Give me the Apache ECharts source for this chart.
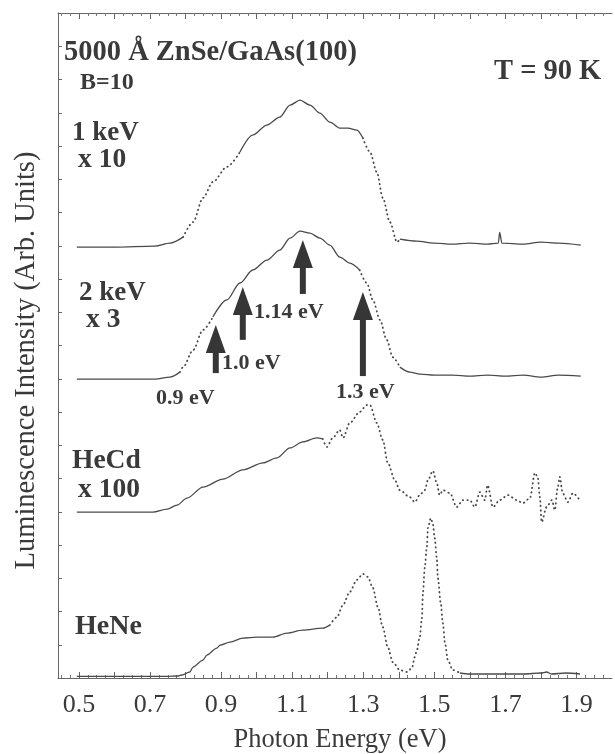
<!DOCTYPE html>
<html><head><meta charset="utf-8">
<script src="https://cdn.jsdelivr.net/npm/echarts@6/dist/echarts.min.js"></script>
<style>html,body{margin:0;padding:0;background:#fff}#c{width:615px;height:754px}</style>
</head><body><div id="c"></div>
<script>
// ---- tick labels ----
const xTickLabels = [0.5, 0.7, 0.9, 1.1, 1.3, 1.5, 1.7, 1.9];
const xMajorTicks = [0.5, 0.6, 0.7, 0.8, 0.9, 1.0, 1.1, 1.2, 1.3, 1.4, 1.5, 1.6, 1.7, 1.8, 1.9];

// ---- spectra: [photon energy (eV), luminescence (arb. units, offset)] ----
const oneKeV = [
  [0.494,12.96],[0.600,12.96],[0.714,12.99],[0.756,13.08],[0.793,13.26],[0.821,13.71],
  [0.849,14.44],[0.877,14.92],[0.916,15.37],[0.953,15.82],[0.989,16.33],[1.029,16.63],
  [1.065,16.87],[1.094,17.23],[1.122,17.38],[1.150,17.23],[1.178,16.99],[1.206,16.72],
  [1.234,16.54],[1.257,16.54],[1.282,16.48],[1.299,16.24],[1.319,15.82],[1.338,15.22],
  [1.355,14.44],[1.375,13.71],[1.395,13.11],[1.403,13.20],[1.450,13.14],[1.500,13.08],
  [1.550,13.05],[1.600,13.08],[1.650,13.05],[1.680,13.08],[1.684,13.40],[1.690,13.08],
  [1.750,13.05],[1.800,13.11],[1.850,13.08],[1.912,13.02]
];
const twoKeV = [
  [0.494,8.99],[0.600,8.99],[0.714,8.99],[0.756,9.05],[0.784,9.20],[0.793,9.35],
  [0.821,9.86],[0.849,10.47],[0.877,10.86],[0.916,11.37],[0.953,11.88],[0.989,12.27],
  [1.029,12.57],[1.065,12.87],[1.094,13.23],[1.122,13.44],[1.150,13.38],[1.178,13.23],
  [1.206,13.02],[1.234,12.66],[1.262,12.48],[1.290,12.27],[1.310,11.88],[1.327,11.37],
  [1.347,10.77],[1.366,10.17],[1.383,9.65],[1.403,9.35],[1.431,9.20],[1.460,9.14],
  [1.500,9.11],[1.550,9.11],[1.600,9.08],[1.650,9.11],[1.700,9.08],[1.750,9.11],
  [1.800,9.05],[1.850,9.11],[1.912,9.08]
];
const heCd = [
  [0.494,4.99],[0.600,4.99],[0.708,4.99],[0.748,5.08],[0.776,5.20],[0.804,5.41],
  [0.849,5.74],[0.905,5.98],[0.961,6.26],[1.018,6.47],[1.057,6.62],[1.094,6.92],
  [1.130,7.10],[1.169,7.22],[1.186,7.19],[1.198,6.95],[1.214,7.22],[1.234,7.46],
  [1.243,7.22],[1.262,7.67],[1.290,8.00],[1.310,8.21],[1.319,8.21],[1.338,7.67],
  [1.355,7.16],[1.369,6.47],[1.389,5.95],[1.403,5.65],[1.431,5.44],[1.445,5.29],
  [1.459,5.50],[1.473,5.65],[1.482,5.95],[1.496,6.23],[1.507,5.86],[1.515,5.50],
  [1.524,5.65],[1.544,5.56],[1.563,5.14],[1.580,5.35],[1.600,5.35],[1.614,5.14],
  [1.628,5.59],[1.642,5.35],[1.650,5.80],[1.665,5.14],[1.684,5.35],[1.707,5.50],
  [1.732,5.35],[1.749,5.26],[1.769,5.41],[1.783,6.17],[1.791,6.05],[1.797,5.44],
  [1.802,4.69],[1.816,5.14],[1.831,5.35],[1.839,5.05],[1.847,5.71],[1.853,6.05],
  [1.861,5.56],[1.876,5.29],[1.890,5.56],[1.909,5.35]
];
const heNe = [
  [0.494,0.05],[0.600,0.05],[0.700,0.05],[0.748,0.05],[0.776,0.06],[0.790,0.09],
  [0.812,0.18],[0.821,0.33],[0.849,0.54],[0.860,0.69],[0.888,0.90],[0.897,0.99],
  [0.925,1.08],[0.961,1.20],[1.001,1.23],[1.046,1.23],[1.085,1.35],[1.130,1.44],
  [1.186,1.50],[1.206,1.59],[1.226,1.83],[1.243,2.20],[1.262,2.59],[1.282,2.95],
  [1.299,3.13],[1.313,3.04],[1.327,2.71],[1.341,2.14],[1.355,1.53],[1.369,0.93],
  [1.383,0.48],[1.403,0.24],[1.423,0.18],[1.437,0.30],[1.445,0.63],[1.451,0.84],
  [1.459,1.23],[1.465,1.80],[1.468,2.56],[1.473,3.31],[1.479,3.94],[1.482,4.51],
  [1.490,4.81],[1.496,4.63],[1.501,4.21],[1.507,3.61],[1.510,3.01],[1.518,2.26],
  [1.524,1.65],[1.530,1.05],[1.538,0.54],[1.552,0.24],[1.572,0.15],[1.600,0.12],
  [1.650,0.12],[1.700,0.12],[1.750,0.12],[1.800,0.15],[1.816,0.18],[1.830,0.12],
  [1.870,0.15],[1.910,0.12]
];
// energy ranges where the recorded points are sparse (drawn as dots)
const oneKeVSparse = [[0.793,0.953],[1.299,1.403]];
const twoKeVSparse = [[0.784,0.877],[1.290,1.403]];
const heCdSparse = [[1.186,1.909]];
const heNeSparse = [[1.206,1.572]];

// arrows: [energy position, tip intensity, tail intensity]
const arrows = [[0.885,10.62,9.17],[0.961,11.76,10.17],[1.130,13.17,11.55],[1.299,11.61,9.08]];

const LINE = '#4a4a4a';
const TXT = '#3a3a3a';
function curve(name, data, sparse) {
  const inside = (e, strict) => sparse.some(r => strict ? (e > r[0] && e < r[1]) : (e >= r[0] && e <= r[1]));
  const solid = data.map(p => inside(p[0], true) ? [p[0], null] : p);
  const dots = data.map(p => inside(p[0], false) ? p : [p[0], null]);
  return [
    {type:'line', name:name, data:solid, showSymbol:false, silent:true, smooth:0.3, smoothMonotone:'x',
     lineStyle:{color:LINE, width:1.3}},
    {type:'line', name:name + ' ', data:dots, showSymbol:false, silent:true, smooth:0.3, smoothMonotone:'x',
     lineStyle:{color:LINE, width:1.8, type:[0.5,4.0], cap:'round'}}
  ];
}
const minorTicks = [];
for (let i = 0; i <= 62; i++) {
  const v = Math.round((0.45 + i * 0.025) * 1000) / 1000;
  if (Math.abs(v * 10 - Math.round(v * 10)) > 1e-6) minorTicks.push(v);
}

const serif = '"Liberation Serif", "Times New Roman", serif';
function label(text, x, y, size, bold) {
  return {type:'text', x:x, y:y, silent:true,
    style:{text:text, fontFamily:serif, fontSize:size, fontWeight: bold === false ? 'normal' : 'bold',
           fill:TXT, align:'left', verticalAlign:'middle'}};
}

const XMIN = 0.441, XMAX = 2.0;
const baseX = {type:'value', min:XMIN, max:XMAX, splitLine:{show:false}};
const option = {
  animation:false,
  backgroundColor:'#ffffff',
  grid:{left:58, right:3, top:13, bottom:76, containLabel:false, outerBoundsMode:'none'},
  xAxis:[
    Object.assign({}, baseX, {position:'bottom',
      name:'Photon Energy (eV)', nameLocation:'middle', nameGap:49,
      nameTextStyle:{fontFamily:serif, fontSize:26.5, color:TXT, padding:[0,0,0,10]},
      axisLine:{lineStyle:{color:'#666', width:1}},
      axisTick:{inside:true, length:6, customValues:xMajorTicks, lineStyle:{color:'#666'}},
      axisLabel:{customValues:xTickLabels, margin:14, fontFamily:serif, fontSize:26, color:TXT,
        formatter:v => v.toFixed(1)}}),
    Object.assign({}, baseX, {position:'bottom',
      axisLine:{show:false}, axisLabel:{show:false},
      axisTick:{inside:true, length:3, customValues:minorTicks, lineStyle:{color:'#777'}}}),
    Object.assign({}, baseX, {position:'top',
      axisLine:{lineStyle:{color:'#666', width:1}}, axisLabel:{show:false},
      axisTick:{inside:true, length:6, customValues:xMajorTicks, lineStyle:{color:'#666'}}}),
    Object.assign({}, baseX, {position:'top',
      axisLine:{show:false}, axisLabel:{show:false},
      axisTick:{inside:true, length:3, customValues:minorTicks, lineStyle:{color:'#777'}}})
  ],
  yAxis:[{type:'value', min:0, max:20, interval:1, position:'left',
    name:'Luminescence Intensity (Arb. Units)', nameLocation:'middle', nameGap:17, nameRotate:90,
    nameTextStyle:{fontFamily:serif, fontSize:28.5, color:TXT, padding:[0,30,0,0]},
    splitLine:{show:false}, axisLabel:{show:false},
    axisLine:{show:true, lineStyle:{color:'#666', width:1}},
    axisTick:{inside:true, length:4, lineStyle:{color:'#666'}}}],
  series:[].concat(
    curve('1 keV x 10', oneKeV, oneKeVSparse),
    curve('2 keV x 3', twoKeV, twoKeVSparse),
    curve('HeCd x 100', heCd, heCdSparse),
    curve('HeNe', heNe, heNeSparse),
    [{type:'custom', name:'arrows', data:arrows, silent:true,
      encode:{x:0, y:[1,2]},
      renderItem:function(params, api){
        const tip = api.coord([api.value(0), api.value(1)]);
        const tail = api.coord([api.value(0), api.value(2)]);
        const hh = 28, hw = 10, sw = 3;
        return {type:'group', children:[
          {type:'rect', shape:{x:tip[0]-sw, y:tip[1]+hh-2, width:sw*2, height:tail[1]-tip[1]-hh+2},
           style:{fill:'#363636'}},
          {type:'polygon', shape:{points:[[tip[0],tip[1]],[tip[0]-hw,tip[1]+hh],[tip[0]+hw,tip[1]+hh]]},
           style:{fill:'#363636'}}
        ]};
      }}]
  ),
  graphic:[
    label('5000 Å ZnSe/GaAs(100)', 64, 53, 28.5),
    label('B=10', 80, 83, 24),
    label('T = 90 K', 494, 72, 28.5),
    label('1 keV', 72, 133, 27),
    label('x 10', 78, 160, 27.5),
    label('2 keV', 79, 293, 27),
    label('x 3', 86, 320, 27.5),
    label('HeCd', 72, 461, 27.5),
    label('x 100', 78, 490, 27.5),
    label('HeNe', 75, 627, 28),
    label('0.9 eV', 156, 398, 22),
    label('1.0 eV', 222, 363, 22),
    label('1.14 eV', 254, 312, 22),
    label('1.3 eV', 336, 392, 22)
  ]
};
const chart = echarts.init(document.getElementById('c'), null, {renderer:'canvas'});
chart.setOption(option);
</script></body></html>
